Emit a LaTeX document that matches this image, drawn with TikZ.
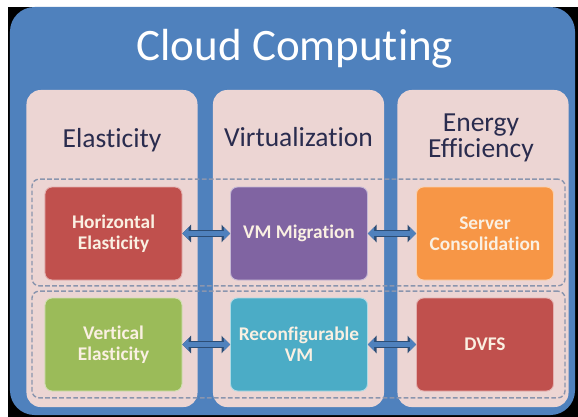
\documentclass[tikz,border=0pt]{standalone}
\usepackage{fontspec}
\setmainfont{Carlito}[Ligatures=NoCommon]
\usepackage{tikz}
\usetikzlibrary{arrows.meta,positioning}

\definecolor{frameblue}{HTML}{4F81BD}
\definecolor{colpink}{HTML}{ECD5D3}
\definecolor{dashgray}{HTML}{8A95AE}
\definecolor{headtext}{HTML}{2A2C4E}
\definecolor{boxtext}{HTML}{FAF0E2}
\definecolor{arrowdark}{HTML}{2C4D75}
\definecolor{boxred}{HTML}{C0504D}
\definecolor{boxpurple}{HTML}{8064A2}
\definecolor{boxorange}{HTML}{F79646}
\definecolor{boxgreen}{HTML}{9BBB59}
\definecolor{boxteal}{HTML}{4BACC6}

\begin{document}
\begin{tikzpicture}[x=0.03cm, y=-0.03cm,
    frame/.style={rectangle, rounded corners=21pt, fill=frameblue, minimum width=16.95cm, minimum height=12.24cm},
    column/.style={rectangle, rounded corners=12pt, fill=colpink, minimum width=5.13cm, minimum height=9.51cm},
    band/.style={rectangle, rounded corners=6pt, draw=dashgray, dashed, dash pattern=on 4pt off 2pt, line width=1.2pt, minimum width=15.99cm, minimum height=3.2cm},
    box/.style={rectangle, rounded corners=6pt, fill=#1, draw=#1!45!white, line width=0.8pt, minimum width=4.11cm, minimum height=2.79cm, align=center, text=boxtext, font=\fontsize{16.5}{18}\selectfont\bfseries},
    head/.style={text=headtext, align=center, font=\fontsize{23.5}{22}\selectfont},
    title/.style={text=white, font=\fontsize{38.4}{40}\selectfont},
    link/.style={{Triangle[length=0pt 1.3, width=0pt 2.6]}-{Triangle[length=0pt 1.3, width=0pt 2.6]}, line width=4pt, draw=frameblue, preaction={draw=arrowdark, line width=5.6pt}}
]
\useasboundingbox (0,0) rectangle (578,417);
\fill[black] (8,7) rectangle (578,417);

% Frame and title
\node[frame] (cloud) at (292.5,211) {};
\node[title, anchor=base] (title) at (295,60) {Cloud Computing};

% Columns
\node[column] (elastic) at (112,248.5) {};
\node[column] (virt) at (298.5,248.5) {};
\node[column] (energy) at (483,248.5) {};
\node[head, anchor=base] (elastichead) at (112,147) {Elasticity};
\node[head, anchor=base] (virthead) at (298.5,146) {Virtualization};
\node[head] (energyhead) at (481,138) {Energy\\Efficiency};

% Dashed rows
\node[band] (toprow) at (298.5,232.5) {};
\node[band] (botrow) at (298.5,344.5) {};

% Boxes
\node[box=boxred] (horiz) at (113.5,233.5) {Horizontal\\Elasticity};
\node[box=boxpurple] (migr) at (299,233.5) {VM Migration};
\node[box=boxorange] (consol) at (485,233.5) {Server\\Consolidation};
\node[box=boxgreen] (vert) at (113.5,344.5) {Vertical\\Elasticity};
\node[box=boxteal] (reconf) at (299,344.5) {Reconfigurable\\VM};
\node[box=boxred] (dvfs) at (485,344.5) {DVFS};

% Arrows
\draw[link] (horiz) -- (migr);
\draw[link] (migr) -- (consol);
\draw[link] (vert) -- (reconf);
\draw[link] (reconf) -- (dvfs);
\end{tikzpicture}
\end{document}
